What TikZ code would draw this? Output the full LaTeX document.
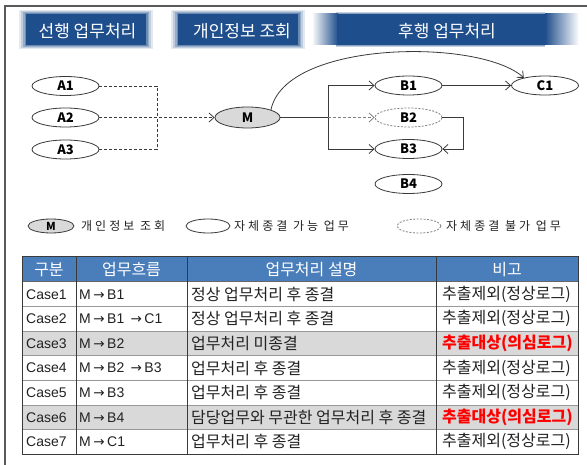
\documentclass[tikz,border=0pt]{standalone}
\usepackage{fontspec}
\setmainfont{Liberation Sans}
\newfontfamily\kr{Noto Sans CJK KR}
\newfontfamily\dv{DejaVu Sans}
\usetikzlibrary{shapes.geometric,arrows.meta}
\definecolor{banner}{HTML}{1F4E8C}
\definecolor{thead}{HTML}{4A7EBB}
\definecolor{rowgray}{HTML}{D9D9D9}
\definecolor{ln}{HTML}{3A3A3A}
\definecolor{txt}{HTML}{222222}
\newcommand{\ar}{\kern2.5pt{\dv\fontsize{13.5}{13.5}\selectfont →}\kern2.5pt}
\begin{document}
\begin{tikzpicture}[x=1pt,y=-1pt,
  oval/.style={ellipse, draw=ln, line width=0.8pt, minimum width=67pt, minimum height=19pt, inner sep=0pt, font=\kr\bfseries\fontsize{13}{13}\selectfont},
  ovaldash/.style={oval, draw=gray, dash pattern=on 2pt off 1.5pt},
  conn/.style={draw=ln, line width=0.8pt},
  arr/.style={conn, -{Straight Barb[length=5pt,width=9pt]}},
  dsh/.style={dash pattern=on 3pt off 2pt},
  bantext/.style={text=white, font=\kr\fontsize{17}{17}\selectfont, inner sep=0pt},
  lgtext/.style={anchor=west, inner sep=0pt, text=txt, font=\kr\fontsize{12}{12}\selectfont\addfontfeature{LetterSpace=25}},
  thtext/.style={text=white, inner sep=0pt, font=\kr\fontsize{16}{16}\selectfont},
  latcell/.style={anchor=west, inner sep=0pt, text=txt, font=\fontsize{14}{14}\selectfont},
  krcell/.style={anchor=west, inner sep=0pt, text=txt, font=\kr\fontsize{16}{16}\selectfont},
  redcell/.style={anchor=west, inner sep=0pt, text=red, font=\kr\bfseries\fontsize{16}{16}\selectfont}
]
\useasboundingbox (0,0) rectangle (587,465);
\fill[white] (0,0) rectangle (587,465);
% frame
\draw[line width=1.5pt, draw=gray!70!black] (5,465) -- (5,6) -- (587,6);

% banners (soft edges)
\foreach \xa/\xb in {26/146, 178/298}{
  \foreach \d/\o in {7/0.12, 5/0.18, 3/0.25, 1.5/0.35}{
    \fill[banner, opacity=\o] (\xa-\d,13.5-\d/2) rectangle (\xb+\d,45.5+\d/2);
  }
  \fill[banner] (\xa,14) rectangle (\xb,45);
}
\foreach \d/\o in {3/0.25, 1.5/0.35}{
  \fill[banner, opacity=\o] (336,13.5-\d/2) rectangle (545,45.5+\d/2);
}
\shade[left color=banner!5, right color=banner] (313,14) rectangle (338,45);
\fill[banner] (337,14) rectangle (546,45);
\shade[left color=banner, right color=white] (545,14) rectangle (579,45);
\node[bantext] (h1) at (87.5,31) {선행 업무처리};
\node[bantext] (h2) at (242,31) {개인정보 조회};
\node[bantext] (h3) at (447,31) {후행 업무처리};

% diagram nodes
\node[oval] (A1) at (65.5,86) {A1};
\node[oval] (A2) at (65.5,117.5) {A2};
\node[oval] (A3) at (65.5,149.5) {A3};
\node[oval, fill=gray!30, minimum width=65pt, minimum height=21pt] (M) at (247.5,117.5) {M};
\node[oval] (B1) at (408.5,85.5) {B1};
\node[ovaldash] (B2) at (408.5,117.5) {B2};
\node[oval] (B3) at (408.5,149) {B3};
\node[oval] (B4) at (408.5,184) {B4};
\node[oval] (C1) at (545,85.5) {C1};
\coordinate (J) at (157,117.5);
\coordinate (K) at (328,117.5);

% connectors
\draw[conn,dsh] (A1.east) -| (J);
\draw[conn,dsh] (A3.east) -| (J);
\draw[arr,dsh] (A2.east) -- (M.west);
\draw[conn] (M.east) -- (K);
\draw[arr] (K) |- (B1.west);
\draw[arr] (K) |- (B3.west);
\draw[arr,dsh,draw=gray] (K) -- (B2.west);
\draw[arr] (B1.east) -- (C1.west);
\draw[arr] (B2.east) -- ++(21,0) |- (B3.east);
\draw[arr] (M.18) .. controls (285,40) and (480,38) .. (C1.160);

% legend
\node[oval, fill=gray!30, minimum width=46pt, minimum height=14pt, font=\kr\bfseries\fontsize{11}{11}\selectfont] (LM) at (51,226) {M};
\node[lgtext] (LT1) at (81,226) {개인정보 조회};
\node[oval, minimum width=44pt, minimum height=14pt] (LE) at (208,226) {};
\node[lgtext] (LT2) at (234,226) {자체종결 가능 업무};
\node[ovaldash, minimum width=44pt, minimum height=14pt] (LD) at (419,226) {};
\node[lgtext] (LT3) at (446,226) {자체종결 불가 업무};

% table
\fill[thead] (22,257) rectangle (578,282);
\fill[rowgray] (22,331.2) rectangle (578,355.8);
\fill[rowgray] (22,405) rectangle (578,429.6);
\foreach \i in {1,...,6}{
  \draw[line width=1pt, draw=gray!80] (22,282+\i*24.6) -- (578,282+\i*24.6);
}
\draw[line width=1pt, draw=gray!80!black] (22,282) -- (578,282);
\foreach \x in {76,187,436}{
  \draw[line width=1pt, draw=ln] (\x,257) -- (\x,454.2);
}
\draw[line width=1pt, draw=ln] (22,257) rectangle (578,454.2);

\node[thtext] (t1) at (49,269.5) {구분};
\node[thtext] (t2) at (131.5,269.5) {업무흐름};
\node[thtext] (t3) at (311.5,269.5) {업무처리 설명};
\node[thtext] (t4) at (507,269.5) {비고};

\foreach \i/\flow/\desc in {1/M\ar B1/정상 업무처리 후 종결, 2/M\ar B1 \ar C1/정상 업무처리 후 종결, 3/M\ar B2/업무처리 미종결, 4/M\ar B2 \ar B3/업무처리 후 종결, 5/M\ar B3/업무처리 후 종결, 6/M\ar B4/담당업무와 무관한 업무처리 후 종결, 7/M\ar C1/업무처리 후 종결}{
  \node[latcell] (c\i a) at (26,282+\i*24.6-12.3) {Case\i};
  \node[latcell] (c\i b) at (79,282+\i*24.6-12.3) {\flow};
  \node[krcell] (c\i c) at (191,282+\i*24.6-12.3) {\desc};
}
\foreach \i in {1,2,4,5,7}{
  \node[krcell] (c\i d) at (442,282+\i*24.6-12.3) {추출제외(정상로그)};
}
\foreach \i in {3,6}{
  \node[redcell] (c\i d) at (442,282+\i*24.6-12.3) {추출대상(의심로그)};
}
\end{tikzpicture}
\end{document}
